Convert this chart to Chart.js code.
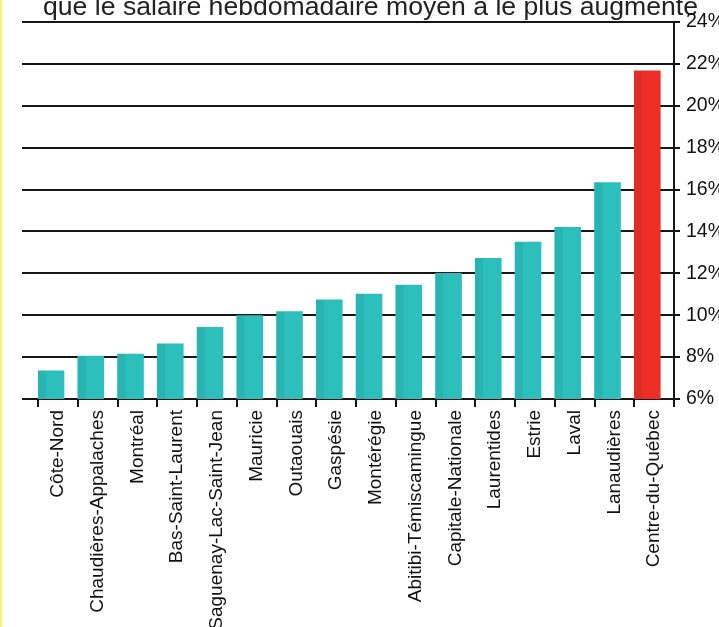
<!DOCTYPE html>
<html>
<head>
<meta charset="utf-8">
<script src="https://cdn.jsdelivr.net/npm/chart.js@4.4.1/dist/chart.umd.min.js"></script>
<style>
  html, body { margin: 0; padding: 0; background: #fff; overflow: hidden; }
  body { width: 719px; height: 627px; position: relative; }
  #edge { position: absolute; left: 0; top: 0; width: 2px; height: 627px; background: #fff27c; z-index: 2; }
  #chart { position: absolute; left: 0; top: -25px; }
</style>
</head>
<body>
<div id="edge"></div>
<canvas id="chart" width="719" height="652"></canvas>
<script>
// Régions, triées par hausse du salaire hebdomadaire moyen (%)
const regions = [
  "Côte-Nord", "Chaudières-Appalaches", "Montréal", "Bas-Saint-Laurent",
  "Saguenay-Lac-Saint-Jean", "Mauricie", "Outaouais", "Gaspésie",
  "Montérégie", "Abitibi-Témiscamingue", "Capitale-Nationale", "Laurentides",
  "Estrie", "Laval", "Lanaudières", "Centre-du-Québec"
];
const hausse = [7.35, 8.05, 8.15, 8.63, 9.42, 9.98, 10.17, 10.73,
                11.01, 11.44, 12.0, 12.72, 13.49, 14.2, 16.33, 21.66];
const highlight = ["Centre-du-Québec"];
const yTicks = [6, 8, 10, 12, 14, 16, 18, 20, 22, 24];
const titleText = "que le salaire hebdomadaire moyen a le plus augmenté";

const teal = "#2cbfbb";
const red = "#ee2e25";
const ink = "#161616";
const font = "'Liberation Sans', Arial, sans-serif";

// bars sit at the left of each category slot (starting at the tick)
const barShift = 13 / 39.7;

// slightly darker left face on each bar, like the original's shading
const barShade = {
  id: "barShade",
  afterDatasetsDraw(chart) {
    const ctx = chart.ctx;
    const bottom = chart.chartArea.bottom;
    ctx.save();
    ctx.fillStyle = "rgba(0, 60, 60, 0.07)";
    chart.getDatasetMeta(0).data.forEach(bar => {
      const left = bar.x - bar.width / 2;
      const base = Math.min(bar.base, bottom);
      ctx.fillRect(left, bar.y, bar.width * 0.3, base - bar.y);
    });
    ctx.restore();
  }
};

new Chart(document.getElementById("chart"), {
  type: "bar",
  data: {
    labels: regions,
    datasets: [{
      data: hausse.map((v, i) => ({ x: i, y: v })),
      xAxisID: "xb",
      yAxisID: "y",
      backgroundColor: regions.map(r => highlight.includes(r) ? red : teal),
      borderWidth: 0,
      barThickness: 26
    }]
  },
  plugins: [barShade],
  options: {
    responsive: false,
    animation: false,
    layout: { padding: { left: 22, right: 0, top: 0, bottom: 0 } },
    plugins: {
      legend: { display: false },
      tooltip: { enabled: false },
      title: {
        display: true,
        text: titleText,
        color: "#222",
        font: { family: font, size: 26.6, weight: "normal", lineHeight: 1.05 },
        padding: { top: 19, bottom: 0 }
      }
    },
    scales: {
      xb: {
        type: "linear",
        display: false,
        offset: false,
        grid: { offset: false },
        min: -barShift,
        max: regions.length - barShift
      },
      x: {
        type: "category",
        position: "bottom",
        offset: true,
        grid: { offset: true, drawOnChartArea: false, drawTicks: true, tickLength: 8, color: ink, lineWidth: 2 },
        border: { display: true, color: ink, width: 2 },
        ticks: {
          autoSkip: false, minRotation: 90, maxRotation: 90, padding: 3,
          color: "#111", font: { family: font, size: 19 }
        },
        afterFit: s => { s.height = 228; }
      },
      y: {
        position: "right",
        min: yTicks[0],
        max: yTicks[yTicks.length - 1],
        afterBuildTicks: s => { s.ticks = yTicks.map(v => ({ value: v })); },
        grid: { color: ink, lineWidth: 2, tickLength: 6 },
        border: { display: true, color: ink, width: 2 },
        ticks: {
          padding: 6, color: "#111", font: { family: font, size: 19.5 },
          callback: v => v + "%"
        },
        afterFit: s => { s.width = 45; }
      },
      yl: {
        position: "left",
        min: yTicks[0],
        max: yTicks[yTicks.length - 1],
        afterBuildTicks: s => { s.ticks = yTicks.map(v => ({ value: v })); },
        grid: { drawOnChartArea: false, tickLength: 16, color: ink, lineWidth: 2 },
        border: { display: false },
        ticks: { display: false },
        afterFit: s => { s.width = 16; }
      }
    }
  }
});
</script>
</body>
</html>
